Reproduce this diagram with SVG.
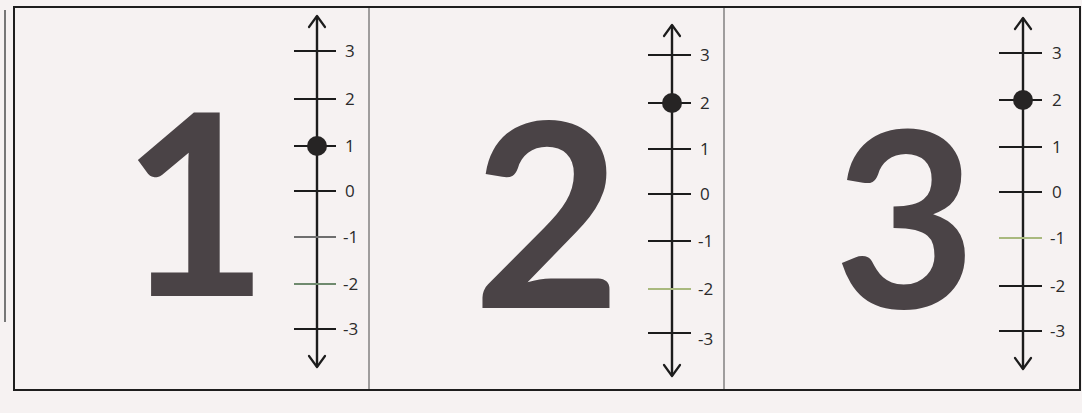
<svg xmlns="http://www.w3.org/2000/svg" width="1082" height="413" viewBox="0 0 1082 413">
<style>
.bg{fill:#f6f2f2}
.frame{fill:none;stroke:#1e1e1e;stroke-width:2}
.div{stroke:#8a8787;stroke-width:1.6}
.axis{stroke:#1c1c1c;stroke-width:2.4;fill:none}
.tick{stroke:#1c1c1c;stroke-width:2}
.tickg{stroke:#6f8a6e;stroke-width:2}
.ticky{stroke:#a9b97e;stroke-width:2}
.head{fill:none;stroke:#1c1c1c;stroke-width:2.2;stroke-linecap:round;stroke-linejoin:round}
.dot{fill:#262424}
.lbl{font-family:"Open Sans","Liberation Sans",sans-serif;font-size:17px;fill:#2a2a2a}
.big{fill:#4a4346;font-weight:bold;font-family:Lato,"Open Sans",sans-serif}
</style>
<rect class="bg" x="0" y="0" width="1082" height="413"/>
<line x1="5" y1="10" x2="5" y2="322" stroke="#777" stroke-width="2"/>
<rect class="frame" x="14" y="7" width="1066" height="383"/>
<line class="div" x1="369" y1="8" x2="369" y2="389"/>
<line class="div" x1="724" y1="8" x2="724" y2="389"/>

<g id="panel1">
<text class="big" x="195" y="296" text-anchor="middle" font-size="254">1</text>
<line class="axis" x1="317" y1="16" x2="317" y2="367"/>
<path class="head" d="M309 27 L317 16 L325 27"/>
<path class="head" d="M309 356 L317 367 L325 356"/>
<line class="tick" x1="294" y1="51" x2="336" y2="51"/>
<line class="tick" x1="294" y1="99" x2="336" y2="99"/>
<line class="tick" x1="294" y1="146" x2="336" y2="146"/>
<line class="tick" x1="294" y1="191" x2="336" y2="191"/>
<line class="tickg" x1="294" y1="237" x2="336" y2="237" style="stroke:#6e6e6e"/>
<line class="tickg" x1="294" y1="284" x2="336" y2="284"/>
<line class="tick" x1="294" y1="329" x2="336" y2="329"/>
<circle class="dot" cx="317" cy="146" r="10"/>
<text class="lbl" x="345" y="57">3</text>
<text class="lbl" x="345" y="105">2</text>
<text class="lbl" x="345" y="152">1</text>
<text class="lbl" x="345" y="197">0</text>
<text class="lbl" x="343" y="243">-1</text>
<text class="lbl" x="343" y="290">-2</text>
<text class="lbl" x="343" y="335">-3</text>
</g>

<g id="panel2">
<text class="big" x="547" y="308" text-anchor="middle" font-size="256">2</text>
<line class="axis" x1="672" y1="25" x2="672" y2="376"/>
<path class="head" d="M664 36 L672 25 L680 36"/>
<path class="head" d="M664 365 L672 376 L680 365"/>
<line class="tick" x1="648" y1="55" x2="691" y2="55"/>
<line class="tick" x1="648" y1="103" x2="691" y2="103"/>
<line class="tick" x1="648" y1="149" x2="691" y2="149"/>
<line class="tick" x1="648" y1="194" x2="691" y2="194"/>
<line class="tick" x1="648" y1="241" x2="691" y2="241"/>
<line class="ticky" x1="648" y1="289" x2="691" y2="289"/>
<line class="tick" x1="648" y1="333" x2="691" y2="333"/>
<circle class="dot" cx="672" cy="103" r="10"/>
<text class="lbl" x="700" y="61">3</text>
<text class="lbl" x="700" y="109">2</text>
<text class="lbl" x="700" y="155">1</text>
<text class="lbl" x="700" y="200">0</text>
<text class="lbl" x="698" y="247">-1</text>
<text class="lbl" x="698" y="295">-2</text>
<text class="lbl" x="698" y="345">-3</text>
</g>

<g id="panel3">
<text class="big" x="905" y="308" text-anchor="middle" font-size="246">3</text>
<line class="axis" x1="1023" y1="18" x2="1023" y2="369"/>
<path class="head" d="M1015 29 L1023 18 L1031 29"/>
<path class="head" d="M1015 358 L1023 369 L1031 358"/>
<line class="tick" x1="999" y1="53" x2="1042" y2="53"/>
<line class="tick" x1="999" y1="100" x2="1042" y2="100"/>
<line class="tick" x1="999" y1="147" x2="1042" y2="147"/>
<line class="tick" x1="999" y1="192" x2="1042" y2="192"/>
<line class="ticky" x1="999" y1="238" x2="1042" y2="238"/>
<line class="tick" x1="999" y1="286" x2="1042" y2="286"/>
<line class="tick" x1="999" y1="331" x2="1042" y2="331"/>
<circle class="dot" cx="1023" cy="100" r="10"/>
<text class="lbl" x="1052" y="59">3</text>
<text class="lbl" x="1052" y="106">2</text>
<text class="lbl" x="1052" y="153">1</text>
<text class="lbl" x="1052" y="198">0</text>
<text class="lbl" x="1050" y="244">-1</text>
<text class="lbl" x="1050" y="292">-2</text>
<text class="lbl" x="1050" y="337">-3</text>
</g>
</svg>
